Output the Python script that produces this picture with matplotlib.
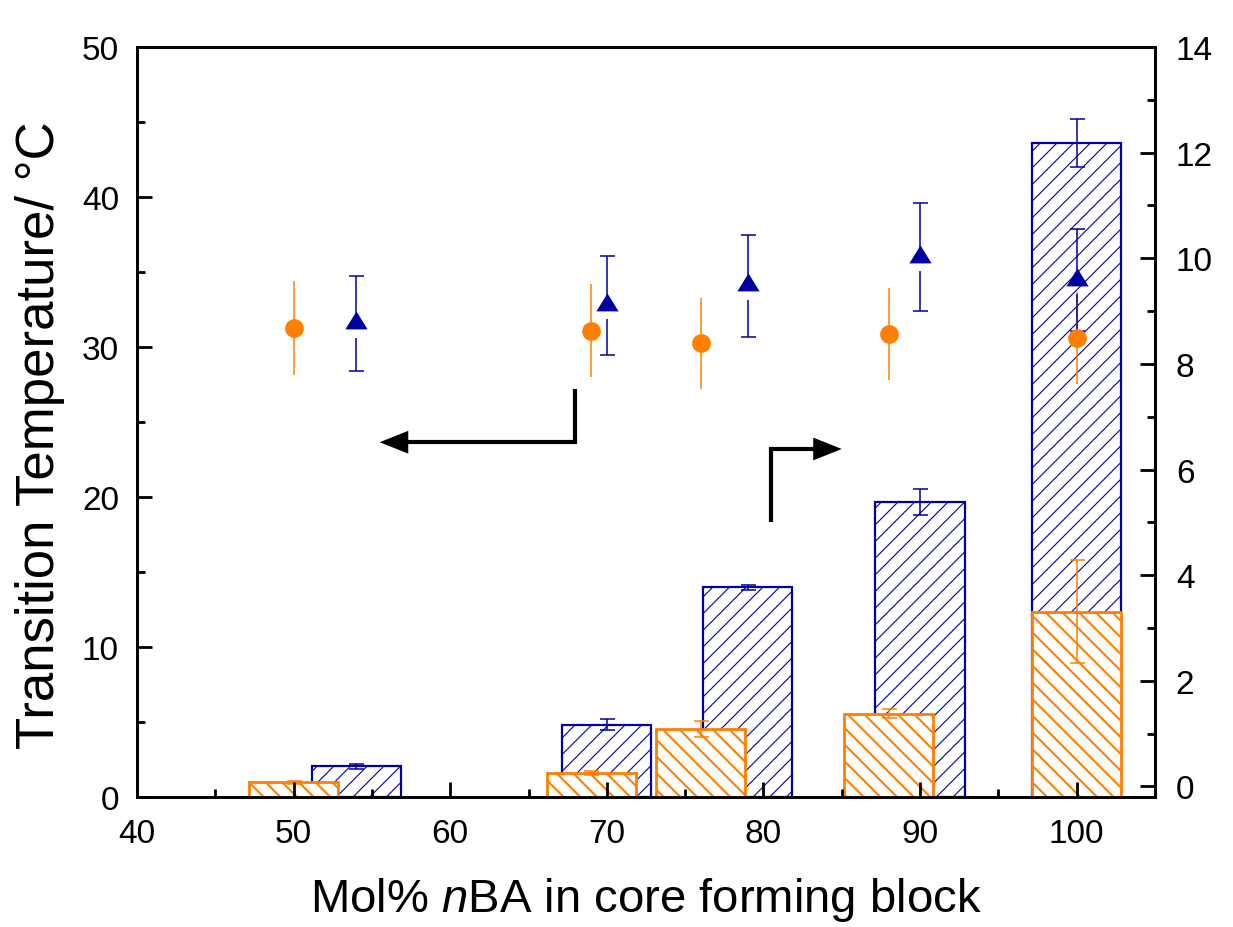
import numpy as np
import matplotlib
matplotlib.use('Agg')
import matplotlib.pyplot as plt
from matplotlib.path import Path
from matplotlib.patches import FancyArrowPatch
from matplotlib.ticker import MultipleLocator

# ---------------- data ----------------
orange_x = [50, 69, 76, 88, 100]
orange_temp = [31.27, 31.08, 30.25, 30.87, 30.59]
orange_temp_err = [3.13, 3.1, 3.03, 3.09, 3.05]

blue_x = [54, 70, 79, 90, 100]
blue_temp = [31.55, 32.77, 34.08, 35.98, 34.45]
blue_temp_err = [3.18, 3.28, 3.41, 3.6, 3.4]

blue_bar = [0.38, 1.17, 3.77, 5.38, 12.18]
blue_bar_err = [0.05, 0.1, 0.05, 0.25, 0.45]
orange_bar = [0.08, 0.25, 1.08, 1.38, 3.31]
orange_bar_err = [0.03, 0.04, 0.15, 0.08, 0.97]

x_ticks = [40, 50, 60, 70, 80, 90, 100]
left_ticks = [0, 10, 20, 30, 40, 50]
right_ticks = [0, 2, 4, 6, 8, 10, 12, 14]

# annotation arrows (left-axis data coordinates)
arrow_left = [(68.0, 27.2), (68.0, 23.65), (55.5, 23.65)]
arrow_right = [(80.5, 18.3), (80.5, 23.2), (85.0, 23.2)]

BLUE = '#0000A0'
ORANGE = '#FF8000'

plt.rcParams['font.family'] = ['Liberation Sans', 'DejaVu Sans']
plt.rcParams['mathtext.fontset'] = 'custom'
plt.rcParams['mathtext.rm'] = 'Liberation Sans'
plt.rcParams['mathtext.it'] = 'Liberation Sans:italic'

fig = plt.figure(figsize=(12.33, 9.28), dpi=100)
fig.subplots_adjust(left=0.1111, right=0.9367, bottom=0.1401, top=0.9483)
ax = fig.add_subplot(111)
ax2 = ax.twinx()
ax.set_zorder(ax2.get_zorder() + 1)
ax.patch.set_visible(False)

ax.set_xlim(40, 105)
ax.set_ylim(0, 50)
ybot = -0.2
ax2.set_ylim(ybot, 14)


def set_hatch_lw(bars, lw):
    for b in bars:
        if hasattr(b, 'set_hatch_linewidth'):
            b.set_hatch_linewidth(lw)
        else:
            b._hatch_linewidth = lw


# ---------------- bars (right axis) ----------------
bw = 5.7
with plt.rc_context({'hatch.linewidth': 0.8}):
    bb = ax2.bar(blue_x, np.array(blue_bar) - ybot, bottom=ybot, width=bw,
                 facecolor='white', edgecolor=BLUE, linewidth=1.6, hatch='//', zorder=2)
set_hatch_lw(bb, 0.8)
ax2.errorbar(blue_x, blue_bar, yerr=blue_bar_err, fmt='none', ecolor=BLUE,
             elinewidth=1.1, capsize=5.4, capthick=1.1, zorder=3)
with plt.rc_context({'hatch.linewidth': 1.5}):
    ob = ax2.bar(orange_x, np.array(orange_bar) - ybot, bottom=ybot, width=bw,
                 facecolor='white', edgecolor=ORANGE, linewidth=2.0, hatch='\\\\', zorder=4)
set_hatch_lw(ob, 1.5)
ax2.errorbar(orange_x, orange_bar, yerr=orange_bar_err, fmt='none', ecolor=ORANGE,
             elinewidth=1.1, capsize=5.4, capthick=1.1, zorder=5)

# ---------------- points (left axis) ----------------
ax.errorbar(orange_x, orange_temp, yerr=orange_temp_err, fmt='o', color=ORANGE,
            markersize=13.5, markeredgewidth=0, ecolor=ORANGE, elinewidth=1.1,
            capsize=5.4, capthick=1.1, zorder=6)

# blue triangles: error bar with a gap around the marker (Origin style)
px_per_unit = ax.get_window_extent().height / 50.0
gap = 14.0 / px_per_unit
bx = np.array(blue_x, float)
by = np.array(blue_temp)
be = np.array(blue_temp_err)
ax.vlines(bx, by + gap * 0.3, by + be, color=BLUE, lw=1.1, zorder=6)
ax.vlines(bx, by - be, by - gap, color=BLUE, lw=1.1, zorder=6)
ax.plot(bx, by + be, ls='none', marker='_', markersize=10.8, mew=1.1, color=BLUE, zorder=6)
ax.plot(bx, by - be, ls='none', marker='_', markersize=10.8, mew=1.1, color=BLUE, zorder=6)
tri = [(-1, -0.62), (1, -0.62), (0, 1.0), (-1, -0.62)]
ax.plot(bx, by + 0.1, ls='none', marker=tri, markersize=16, color=BLUE,
        markeredgewidth=0, zorder=7)

# ---------------- arrows ----------------
for pts in (arrow_left, arrow_right):
    p = Path(pts, [Path.MOVETO, Path.LINETO, Path.LINETO])
    arr = FancyArrowPatch(path=p, arrowstyle='-|>,head_length=0.75,head_width=0.3',
                          mutation_scale=20, color='black', lw=3.0,
                          transform=ax.transData, zorder=8, joinstyle='miter',
                          capstyle='butt')
    ax.add_patch(arr)

# ---------------- axes styling ----------------
ax.set_xticks(x_ticks)
ax.xaxis.set_minor_locator(MultipleLocator(5))
ax.set_yticks(left_ticks)
ax.yaxis.set_minor_locator(MultipleLocator(5))
ax2.set_yticks(right_ticks)
ax2.yaxis.set_minor_locator(MultipleLocator(1))

for a in (ax, ax2):
    for s in a.spines.values():
        s.set_linewidth(2.0)
    a.tick_params(which='major', direction='in', length=10.5, width=2.0,
                  labelsize=24)
    a.tick_params(which='minor', direction='in', length=5.5, width=2.0)
ax.tick_params(axis='x', pad=15)
ax.tick_params(axis='y', pad=13)
ax2.tick_params(axis='y', pad=15)
ax.tick_params(axis='both', which='both', top=False, right=False)
ax2.tick_params(axis='y', which='both', left=False, right=True)

ax.set_xlabel('Mol% $\\it{n}$BA in core forming block', fontsize=34)
ax.xaxis.set_label_coords(0.5, -0.136)
ax.xaxis.label.set_va('center')
ax.set_ylabel('Transition Temperature/ \u00b0C', fontsize=38)
ax.yaxis.set_label_coords(-0.0953, 0.484)
ax.yaxis.label.set_va('center')

fig.savefig('out.png', dpi=100)
